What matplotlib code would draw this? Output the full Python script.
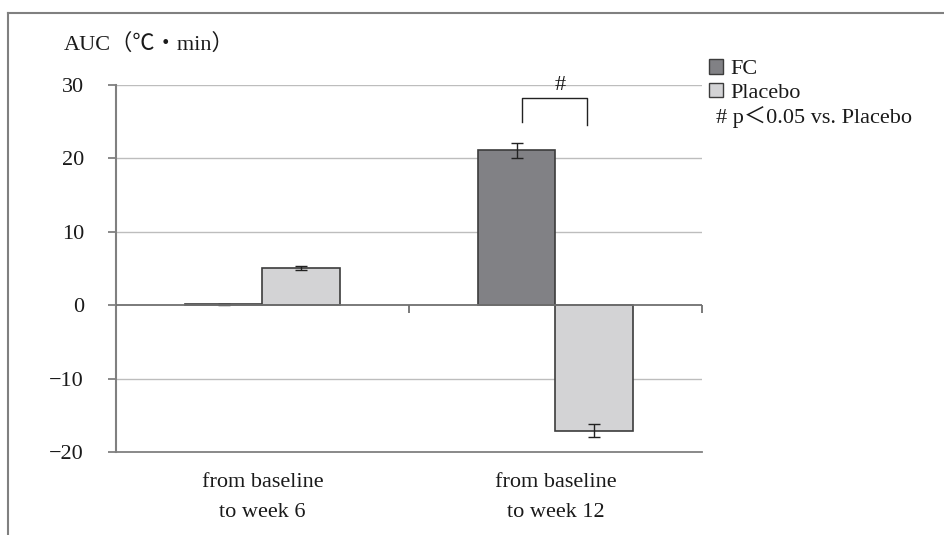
import matplotlib
matplotlib.use("Agg")
import matplotlib.pyplot as plt
from matplotlib.lines import Line2D
from matplotlib.patches import Patch
import numpy as np

plt.rcParams['font.family'] = ['Liberation Serif', 'Noto Sans CJK JP', 'DejaVu Sans']
plt.rcParams['axes.unicode_minus'] = True

categories = ["from baseline\nto week 6", "from baseline\nto week 12"]
series_names = ["FC", "Placebo"]
fc_values = [0.1, 21.1]
fc_errors = [0.1, 1.05]
placebo_values = [5.1, -17.1]
placebo_errors = [0.25, 0.9]
yticks = [30, 20, 10, 0, -10, -20]
ylabel_text = "AUC（℃・min）"
sig_text = "#"
note_text = "# p＜0.05 vs. Placebo"

fc_color = "#818185"
pl_color = "#d3d3d5"
edge = "#3c3c3c"
txt = "#1a1a1a"
FS = 16

fig = plt.figure(figsize=(9.45, 5.35), dpi=100)
W, H = 945, 535
ax = fig.add_axes([116 / W, 1 - 452 / H, (702 - 116) / W, (452 - 85) / H])

x = np.arange(len(categories))
bw = 0.263
ax.bar(x - bw / 2, fc_values, bw, color=fc_color, edgecolor=edge, linewidth=1.2,
       label=series_names[0], zorder=3)
ax.bar(x + bw / 2, placebo_values, bw, color=pl_color, edgecolor=edge, linewidth=1.2,
       label=series_names[1], zorder=3)
ax.errorbar(x - bw / 2, fc_values, yerr=fc_errors, fmt='none', ecolor='#222222',
            elinewidth=1.0, capsize=4.5, capthick=1.0, zorder=4)
ax.errorbar(x + bw / 2, placebo_values, yerr=placebo_errors, fmt='none', ecolor='#222222',
            elinewidth=1.0, capsize=4.5, capthick=1.0, zorder=4)

ax.set_xlim(-0.5, 1.5)
ax.set_ylim(-20, 30)
ax.set_yticks(yticks)
ax.set_yticklabels([str(v).replace('-', '−') for v in yticks], fontsize=FS, color=txt)
ax.tick_params(axis='y', direction='out', length=6, width=1.3, color='#808080', pad=17)
ax.set_xticks(x)
ax.set_xticklabels(categories, fontsize=FS, linespacing=1.78, color=txt)
ax.tick_params(axis='x', length=0, pad=15)

for s in ['top', 'right']:
    ax.spines[s].set_visible(False)
ax.spines['left'].set_color('#808080')
ax.spines['left'].set_linewidth(1.5)
ax.spines['bottom'].set_color('#808080')
ax.spines['bottom'].set_linewidth(1.3)

for v in [30, 20, 10, -10]:
    ax.axhline(v, color='#bdbdbd', lw=1.0, zorder=1)
ax.axhline(0, color='#707070', lw=1.3, zorder=5)
ax.vlines([0.5, 1.5], -1.1, 0, color='#707070', lw=1.3, zorder=5, clip_on=False)

# significance bracket
bx0, bx1 = 0.886, 1.107
ax.plot([bx0, bx0, bx1, bx1], [24.9, 28.2, 28.2, 24.5], color='#222222', lw=1.0,
        zorder=6, clip_on=False)
ax.text(1.015, 30.0, sig_text, ha='center', va='center', fontsize=FS, color=txt,
        zorder=7, clip_on=False)

# y label
fig.text(64 / W, 1 - 44 / H, ylabel_text, fontsize=FS, ha='left', va='center', color=txt)

# legend
handles = [Patch(facecolor=fc_color, edgecolor=edge, linewidth=1.0),
           Patch(facecolor=pl_color, edgecolor=edge, linewidth=1.0)]
leg = fig.legend(handles, series_names, loc='upper left',
                 bbox_to_anchor=(709 / W, 1 - 59 / H), frameon=False, fontsize=FS,
                 handlelength=0.65, handleheight=0.65, handletextpad=0.3,
                 labelspacing=0.15, borderpad=0, borderaxespad=0)
for t in leg.get_texts():
    t.set_color(txt)
fig.text(716 / W, 1 - 117 / H, note_text, fontsize=FS, ha='left', va='center', color=txt)

# outer frame (top and left)
fig.add_artist(Line2D([8.5 / W, 1.0], [1 - 12.5 / H, 1 - 12.5 / H], color='#808080', lw=1.5))
fig.add_artist(Line2D([8.5 / W, 8.5 / W], [0, 1 - 12.5 / H], color='#808080', lw=1.5))

fig.savefig("out.png", dpi=100)
